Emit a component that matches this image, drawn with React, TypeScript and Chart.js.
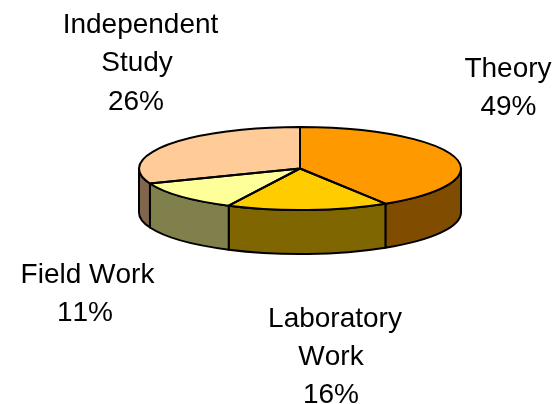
import React, { useEffect, useRef } from "react";
import { Chart, registerables } from "chart.js";

Chart.register(...registerables);

const categories = ["Theory", "Laboratory Work", "Field Work", "Independent Study"];
// Slice sizes as drawn in the picture (the printed percentages differ from the drawn angles).
const drawnShares = [41.1, 16.2, 11.8, 30.9];
const printedPercents = [49, 16, 11, 26];
const topColors = ["#FF9900", "#FFCC00", "#FFFF99", "#FFCC99"];
const sideColors = ["#804D00", "#806600", "#80804D", "#80664D"];
const labelLines = [["Theory"], ["Laboratory", "Work"], ["Field Work"], ["Independent", "Study"]];

const TILT = 41.5 / 161;
const DEPTH = 44;
const LINE = 2;
const FONT = '28px "Liberation Sans", Arial, sans-serif';
const labelAnchors = [
  { x: [508, 508.5], y: [77, 115] },
  { x: [335, 331, 331], y: [327, 365, 403] },
  { x: [87.5, 85], y: [283, 321] },
  { x: [140.5, 137, 136], y: [33, 71, 110] },
];

const pie3d = {
  id: "pie3d",
  beforeDatasetsDraw(chart: any) {
    const { ctx } = chart;
    const arcs = chart.getDatasetMeta(0).data;
    arcs.forEach((arc: any, i: number) => {
      const { x, y, startAngle, endAngle, outerRadius: r } = arc.getProps(["x", "y", "startAngle", "endAngle", "outerRadius"], true);
      const ry = r * TILT;
      for (const shift of [0, -2 * Math.PI, 2 * Math.PI]) {
        const a1 = Math.max(startAngle + shift, 0);
        const a2 = Math.min(endAngle + shift, Math.PI);
        if (a2 <= a1) continue;
        ctx.beginPath();
        ctx.ellipse(x, y, r, ry, 0, a1, a2);
        ctx.ellipse(x, y + DEPTH, r, ry, 0, a2, a1, true);
        ctx.closePath();
        ctx.fillStyle = sideColors[i];
        ctx.fill();
        ctx.lineWidth = LINE;
        ctx.strokeStyle = "#000";
        ctx.lineJoin = "round";
        ctx.stroke();
      }
    });
    const c = arcs[0];
    ctx.save();
    ctx.translate(0, c.y);
    ctx.scale(1, TILT);
    ctx.translate(0, -c.y);
  },
  afterDatasetsDraw(chart: any) {
    const { ctx } = chart;
    ctx.restore();
    const arcs = chart.getDatasetMeta(0).data;
    arcs.forEach((arc: any) => {
      const { x, y, startAngle, endAngle, outerRadius: r } = arc.getProps(["x", "y", "startAngle", "endAngle", "outerRadius"], true);
      ctx.beginPath();
      ctx.moveTo(x, y);
      ctx.ellipse(x, y, r, r * TILT, 0, startAngle, endAngle);
      ctx.closePath();
      ctx.lineWidth = LINE;
      ctx.strokeStyle = "#000";
      ctx.lineJoin = "round";
      ctx.stroke();
    });
    ctx.save();
    ctx.font = FONT;
    (ctx as any).fontKerning = "none";
    ctx.fillStyle = "#000";
    ctx.textAlign = "center";
    ctx.textBaseline = "alphabetic";
    categories.forEach((_, i) => {
      const lines = [...labelLines[i], `${printedPercents[i]}%`];
      lines.forEach((t, j) => ctx.fillText(t, labelAnchors[i].x[j], labelAnchors[i].y[j]));
    });
    ctx.restore();
  },
};

export default function App() {
  const ref = useRef<HTMLCanvasElement>(null);
  useEffect(() => {
    const chart = new Chart(ref.current!, {
      type: "pie",
      data: {
        labels: categories,
        datasets: [{ data: drawnShares, backgroundColor: topColors, borderWidth: 0, clip: false } as any],
      },
      options: {
        responsive: false,
        animation: false,
        layout: { padding: { left: 139, right: 95, top: 0, bottom: 67 } },
        plugins: { legend: { display: false }, tooltip: { enabled: false } },
      },
      plugins: [pie3d],
    });
    return () => chart.destroy();
  }, []);
  return (
    <div style={{ position: "absolute", left: 0, top: 0, width: 556, height: 404, background: "#fff" }}>
      <canvas ref={ref} width={556} height={404} style={{ display: "block" }} />
    </div>
  );
}
